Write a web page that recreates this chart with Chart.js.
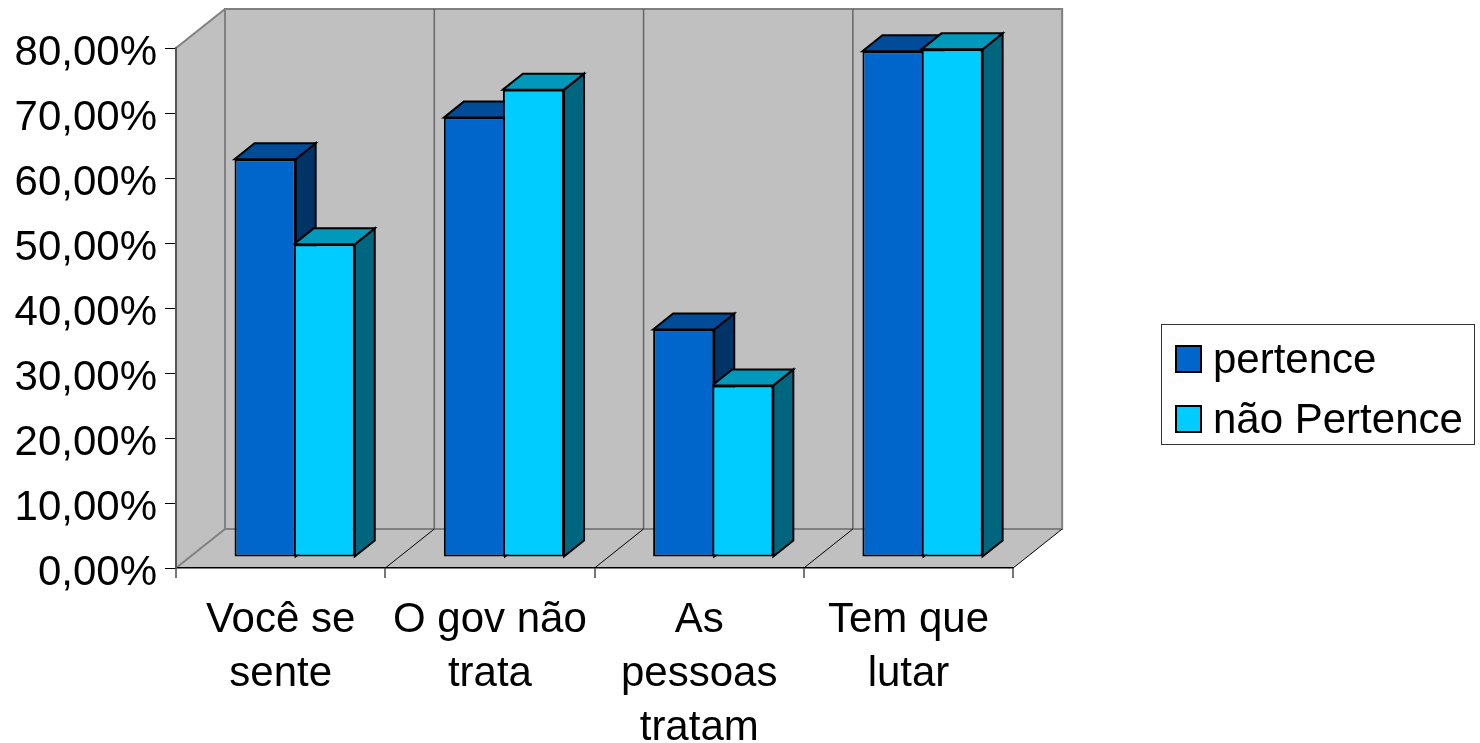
<!DOCTYPE html>
<html lang="pt">
<head>
<meta charset="utf-8">
<title>Pertence / não Pertence</title>
<style>
html, body { margin: 0; padding: 0; background: #fff; overflow: hidden; }
#wrap { width: 1480px; height: 743px; }
</style>
<script src="https://cdn.jsdelivr.net/npm/chart.js@4/dist/chart.umd.js"></script>
</head>
<body>
<div id="wrap"><canvas id="chart"></canvas></div>
<script>
const categories = [['Você se', 'sente'], ['O gov não', 'trata'], ['As', 'pessoas', 'tratam'], ['Tem que', 'lutar']];
const pertence = [61.2, 67.6, 35.0, 77.8];
const naoPertence = [48.1, 71.9, 26.4, 78.1];

const FONT = '"Liberation Sans", Arial, sans-serif';
const WALL = { dx: 49, dy: -39 };
const BAR_OFFSET = { x: 14, y: -11 };
const BAR_DEPTH = { x: 20, y: -16 };
const faceColors = [
    { front: '#0066cc', top: '#004c99', side: '#003366' },
    { front: '#00ccff', top: '#0099bb', side: '#006680' },
];

function poly(ctx, pts, fill, stroke, width) {
    ctx.beginPath();
    pts.forEach((p, i) => (i ? ctx.lineTo(p[0], p[1]) : ctx.moveTo(p[0], p[1])));
    ctx.closePath();
    if (fill) {
        ctx.fillStyle = fill;
        ctx.fill();
    }
    if (stroke) {
        ctx.strokeStyle = stroke;
        ctx.lineWidth = width;
        ctx.stroke();
    }
}

function line(ctx, x1, y1, x2, y2, color, width) {
    ctx.beginPath();
    ctx.moveTo(x1, y1);
    ctx.lineTo(x2, y2);
    ctx.strokeStyle = color;
    ctx.lineWidth = width;
    ctx.stroke();
}

// back wall, side wall and floor sit behind the axes
const wallsPlugin = {
    id: 'walls',
    beforeDraw(chart) {
        const { ctx, chartArea: a } = chart;
        const { dx, dy } = WALL;
        ctx.save();
        poly(ctx, [[a.left, a.top], [a.left + dx, a.top + dy], [a.left + dx, a.bottom + dy], [a.left, a.bottom]], '#c0c0c0');
        poly(ctx, [[a.left, a.bottom], [a.left + dx, a.bottom + dy], [a.right + dx, a.bottom + dy], [a.right, a.bottom]], '#c0c0c0');
        poly(ctx, [[a.left + dx, a.top + dy], [a.right + dx, a.top + dy], [a.right + dx, a.bottom + dy], [a.left + dx, a.bottom + dy]], '#c0c0c0', '#808080', 2);
        line(ctx, a.left, a.top, a.left + dx, a.top + dy, '#808080', 2);
        line(ctx, a.left, a.bottom, a.left + dx, a.bottom + dy, '#808080', 2);
        const step = (a.right - a.left) / categories.length;
        for (let i = 1; i <= categories.length; i++) {
            const x = a.left + step * i;
            if (i < categories.length) line(ctx, x + dx, a.top + dy, x + dx, a.bottom + dy, '#666666', 1.5);
            line(ctx, x, a.bottom, x + dx, a.bottom + dy, '#000000', 1);
        }
        ctx.restore();
    },
};

// top and side faces of the bars, the library draws the front faces on top
const barsPlugin = {
    id: 'bars3d',
    beforeDatasetsDraw(chart) {
        const { ctx } = chart;
        ctx.save();
        ctx.translate(BAR_OFFSET.x, BAR_OFFSET.y);
        ctx.lineJoin = 'miter';
        const { x: bx, y: by } = BAR_DEPTH;
        chart.data.datasets.forEach((ds, d) => {
            chart.getDatasetMeta(d).data.forEach((bar) => {
                const { x, y, base, width } = bar.getProps(['x', 'y', 'base', 'width']);
                const l = x - width / 2;
                const r = x + width / 2;
                poly(ctx, [[r, y], [r + bx, y + by], [r + bx, base + by], [r, base]], faceColors[d].side, '#000', 2);
                poly(ctx, [[l, y], [l + bx, y + by], [r + bx, y + by], [r, y]], faceColors[d].top, '#000', 2);
            });
        });
    },
    afterDatasetsDraw(chart) {
        chart.ctx.restore();
    },
};

const legendPlugin = {
    id: 'legendFrame',
    afterLayout(chart) {
        const lg = chart.legend;
        const w = lg.width;
        const h = lg.height;
        lg.left = 1157;
        lg.right = lg.left + w;
        lg.top = 322;
        lg.bottom = lg.top + h;

        // y labels sit a little below their tick marks
        const y = chart.scales.y;
        if (!y.labelsShifted) {
            const drawLabels = y.drawLabels;
            y.drawLabels = function (area) {
                this.ctx.save();
                this.ctx.translate(0, 5);
                drawLabels.call(this, area);
                this.ctx.restore();
            };
            y.labelsShifted = true;
        }
    },
    beforeDraw(chart) {
        const { ctx } = chart;
        ctx.save();
        ctx.fillStyle = '#fff';
        ctx.strokeStyle = '#333';
        ctx.lineWidth = 1;
        ctx.fillRect(1161, 324.5, 313.5, 120);
        ctx.strokeRect(1161.5, 324.5, 313, 120);
        ctx.restore();
    },
    afterDraw(chart) {
        const { ctx } = chart;
        ctx.save();
        chart.legend.legendHitBoxes.forEach((hit, i) => {
            const cy = hit.top + hit.height / 2 - 2;
            ctx.fillStyle = faceColors[i].front;
            ctx.strokeStyle = '#000';
            ctx.lineWidth = 2;
            ctx.fillRect(hit.left + 1, cy - 13, 25, 26);
            ctx.strokeRect(hit.left + 1, cy - 13, 25, 26);
        });
        ctx.restore();
    },
};

new Chart(document.getElementById('chart'), {
    type: 'bar',
    data: {
        labels: categories,
        datasets: [
            { label: 'pertence', data: pertence, backgroundColor: faceColors[0].front, borderColor: '#000', borderWidth: 2, borderSkipped: false, clip: false },
            { label: 'não Pertence', data: naoPertence, backgroundColor: faceColors[1].front, borderColor: '#000', borderWidth: 2, borderSkipped: false, clip: false },
        ],
    },
    options: {
        responsive: true,
        maintainAspectRatio: false,
        animation: false,
        layout: { padding: { top: 48, right: 151, bottom: 0, left: 0 } },
        datasets: { bar: { categoryPercentage: 0.5645, barPercentage: 1.035 } },
        plugins: {
            tooltip: { enabled: false },
            legend: {
                position: 'right',
                align: 'start',
                onClick: null,
                labels: {
                    color: '#000',
                    font: { family: FONT, size: 42 },
                    boxWidth: 17,
                    boxHeight: 14,
                    padding: 18,
                    // the swatch is drawn larger in afterDraw, the text gap stays the library's
                    generateLabels: (chart) => Chart.defaults.plugins.legend.labels.generateLabels(chart)
                        .map((item) => ({ ...item, fillStyle: 'transparent', lineWidth: 0 })),
                },
            },
        },
        scales: {
            x: {
                afterFit: (scale) => { scale.height = 175; },
                grid: { drawOnChartArea: false, drawTicks: true, tickLength: 10, color: '#777777', lineWidth: 2, offset: true },
                border: { color: '#000', width: 1.5 },
                ticks: {
                    color: '#000',
                    maxRotation: 0,
                    autoSkip: false,
                    padding: 15,
                    font: { family: FONT, size: 42, lineHeight: 1.286 },
                },
            },
            y: {
                min: 0,
                max: 80,
                afterFit: (scale) => { scale.width = 176; },
                grid: { drawOnChartArea: false, drawTicks: true, tickLength: 11, color: '#000' },
                border: { color: '#555555', width: 2 },
                ticks: {
                    stepSize: 10,
                    color: '#000',
                    padding: 8,
                    font: { family: FONT, size: 42 },
                    callback: (value) => `${value.toFixed(2).replace('.', ',')}%`,
                },
            },
        },
    },
    plugins: [wallsPlugin, barsPlugin, legendPlugin],
});
</script>
</body>
</html>
